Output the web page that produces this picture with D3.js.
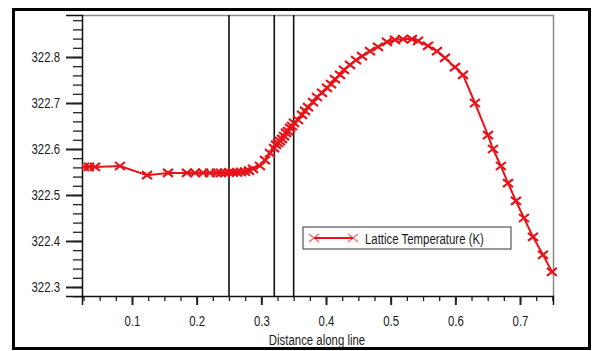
<!DOCTYPE html>
<html>
<head>
<meta charset="utf-8">
<script src="https://cdn.jsdelivr.net/npm/d3@7"></script>
<style>
  body { margin: 0; background: #fff; }
  text { font-family: "Liberation Sans", Arial, sans-serif; fill: #1a1a1a; }
</style>
</head>
<body>
<div id="chart"></div>
<script>
// distance along line
const distance = [0.0258, 0.0335, 0.0428, 0.0814, 0.1232, 0.1557, 0.185, 0.1974, 0.2098, 0.2206,
  0.2314, 0.2376, 0.2438, 0.25, 0.2562, 0.2624, 0.2685, 0.2747, 0.2809, 0.2871,
  0.2979, 0.3057, 0.3134, 0.3196, 0.3227, 0.3258, 0.3289, 0.332, 0.3351, 0.3381,
  0.3412, 0.3443, 0.3474, 0.3505, 0.3567, 0.3629, 0.3675, 0.3721, 0.3799, 0.386,
  0.3938, 0.4015, 0.4077, 0.4139, 0.4216, 0.4278, 0.4371, 0.4464, 0.4557, 0.468,
  0.4804, 0.4943, 0.5066, 0.519, 0.5329, 0.5422, 0.5577, 0.5716, 0.5839, 0.5994,
  0.6118, 0.6303, 0.6504, 0.6582, 0.6705, 0.6814, 0.6937, 0.7061, 0.72, 0.7355, 0.7494]

// lattice temperature (K)
const temperature = [322.561, 322.561, 322.561, 322.563, 322.543, 322.548, 322.548, 322.548, 322.548, 322.548,
  322.548, 322.548, 322.548, 322.549, 322.549, 322.549, 322.55, 322.551, 322.553, 322.557,
  322.563, 322.576, 322.591, 322.602, 322.609, 322.613, 322.617, 322.622, 322.628, 322.635,
  322.639, 322.646, 322.65, 322.657, 322.663, 322.674, 322.683, 322.691, 322.702, 322.713,
  322.722, 322.733, 322.741, 322.752, 322.761, 322.772, 322.783, 322.793, 322.802, 322.813,
  322.822, 322.833, 322.837, 322.839, 322.839, 322.835, 322.824, 322.813, 322.798, 322.778,
  322.761, 322.7, 322.63, 322.6, 322.563, 322.526, 322.487, 322.45, 322.409, 322.37, 322.333]

const markers = [0.25, 0.32, 0.35]

const xTicks = [0.1, 0.2, 0.3, 0.4, 0.5, 0.6, 0.7]
const yTicks = [322.3, 322.4, 322.5, 322.6, 322.7, 322.8]
const xMinor = d3.range(1, 31).map(i => +(i * 0.025).toFixed(3))
const yMinor = d3.range(0, 31).map(i => +(322.28 + i * 0.02).toFixed(2))

const seriesName = 'Lattice Temperature (K)'
const xTitle = 'Distance along line'

const data = distance.map((d, i) => ({ x: d, y: temperature[i] }))

const W = 592, H = 351
const plot = { left: 82, right: 553, top: 15, bottom: 296 }
const red = '#e8141b'
const squeeze = 0.76

// narrow-font look: squeeze text horizontally around its anchor
function condense(sel) {
  sel.each(function () {
    const t = d3.select(this)
    const x = +t.attr('x') || 0
    const y = +t.attr('y') || 0
    t.attr('x', 0).attr('y', 0)
      .attr('transform', `translate(${x},${y}) scale(${squeeze},1)`)
  })
}

const svg = d3.select('#chart')
  .append('svg')
  .attr('width', W)
  .attr('height', H)

// outer frame
svg.append('rect')
  .attr('x', 13.5).attr('y', 9.5)
  .attr('width', 576).attr('height', 339)
  .attr('fill', '#fff')
  .attr('stroke', '#000')
  .attr('stroke-width', 3)

const xScale = d3.scaleLinear()
  .domain([0.02268, 0.751])
  .range([plot.left, plot.right])

const yScale = d3.scaleLinear()
  .domain([322.2804, 322.8913])
  .range([plot.bottom, plot.top])

// plot box (top / right in grey)
svg.append('path')
  .attr('d', `M${plot.left},${plot.top + 0.5}H${plot.right + 0.5}V${plot.bottom}`)
  .attr('fill', 'none')
  .attr('stroke', '#8a8a8a')
  .attr('stroke-width', 1.5)

// minor ticks
svg.append('g')
  .attr('transform', `translate(${plot.left},0)`)
  .call(d3.axisLeft(yScale).tickValues(yMinor).tickSize(9).tickFormat(''))
  .call(g => g.select('.domain').remove())

svg.append('g')
  .attr('transform', `translate(0,${plot.bottom})`)
  .call(d3.axisBottom(xScale).tickValues(xMinor).tickSize(5).tickFormat(''))
  .call(g => g.select('.domain').remove())

// major axes
const yAxis = svg.append('g')
  .attr('transform', `translate(${plot.left},0)`)
  .call(d3.axisLeft(yScale).tickValues(yTicks).tickSize(16).tickPadding(6).tickFormat(d3.format('.1f')))

const xAxis = svg.append('g')
  .attr('transform', `translate(0,${plot.bottom})`)
  .call(d3.axisBottom(xScale).tickValues(xTicks).tickSize(9).tickPadding(10).tickFormat(d3.format('.1f')))

svg.selectAll('.tick line').attr('stroke', '#222').attr('stroke-width', 1.3)
yAxis.selectAll('.tick line').attr('stroke-width', 2)
xAxis.selectAll('.tick line').attr('stroke-width', 2)
svg.selectAll('.domain').attr('stroke', '#111').attr('stroke-width', 1.5)
svg.selectAll('.tick text').attr('font-size', 15).style('font-family', null)
  .attr('font-family', null).call(condense)

svg.append('text')
  .text(xTitle)
  .attr('x', 317)
  .attr('y', 344.5)
  .attr('text-anchor', 'middle')
  .attr('font-size', 15)
  .call(condense)

// vertical marker lines
svg.selectAll('.vline')
  .data(markers)
  .join('line')
  .attr('class', 'vline')
  .attr('x1', d => xScale(d)).attr('x2', d => xScale(d))
  .attr('y1', plot.top).attr('y2', plot.bottom)
  .attr('stroke', '#111')
  .attr('stroke-width', 1.6)

svg.append('clipPath').attr('id', 'clip')
  .append('rect')
  .attr('x', plot.left).attr('y', plot.top)
  .attr('width', plot.right - plot.left + 4).attr('height', plot.bottom - plot.top)

const g = svg.append('g').attr('clip-path', 'url(#clip)')

const line = d3.line().x(d => xScale(d.x)).y(d => yScale(d.y))

g.append('path')
  .datum(data)
  .attr('d', line)
  .attr('fill', 'none')
  .attr('stroke', red)
  .attr('stroke-width', 2)

const xMark = 'M-5,-4L5,4M-5,4L5,-4'

g.selectAll('.pt')
  .data(data)
  .join('path')
  .attr('class', 'pt')
  .attr('transform', d => `translate(${xScale(d.x)},${yScale(d.y)})`)
  .attr('d', xMark)
  .attr('stroke', red)
  .attr('stroke-width', 2.2)

// legend
const legend = svg.append('g').attr('transform', 'translate(303,227)')
legend.append('rect')
  .attr('width', 208).attr('height', 22)
  .attr('fill', '#fff')
  .attr('stroke', '#555')
  .attr('stroke-width', 1.2)
legend.append('line')
  .attr('x1', 11).attr('x2', 50)
  .attr('y1', 11).attr('y2', 11)
  .attr('stroke', red).attr('stroke-width', 2)
legend.selectAll('.lm')
  .data([11, 50])
  .join('path')
  .attr('class', 'lm')
  .attr('transform', d => `translate(${d},11)`)
  .attr('d', xMark)
  .attr('stroke', red)
  .attr('stroke-opacity', 0.6)
  .attr('stroke-width', 1.5)
legend.append('text')
  .text(seriesName)
  .attr('x', 62)
  .attr('y', 16.5)
  .attr('font-size', 15)
  .call(condense)
</script>
</body>
</html>
